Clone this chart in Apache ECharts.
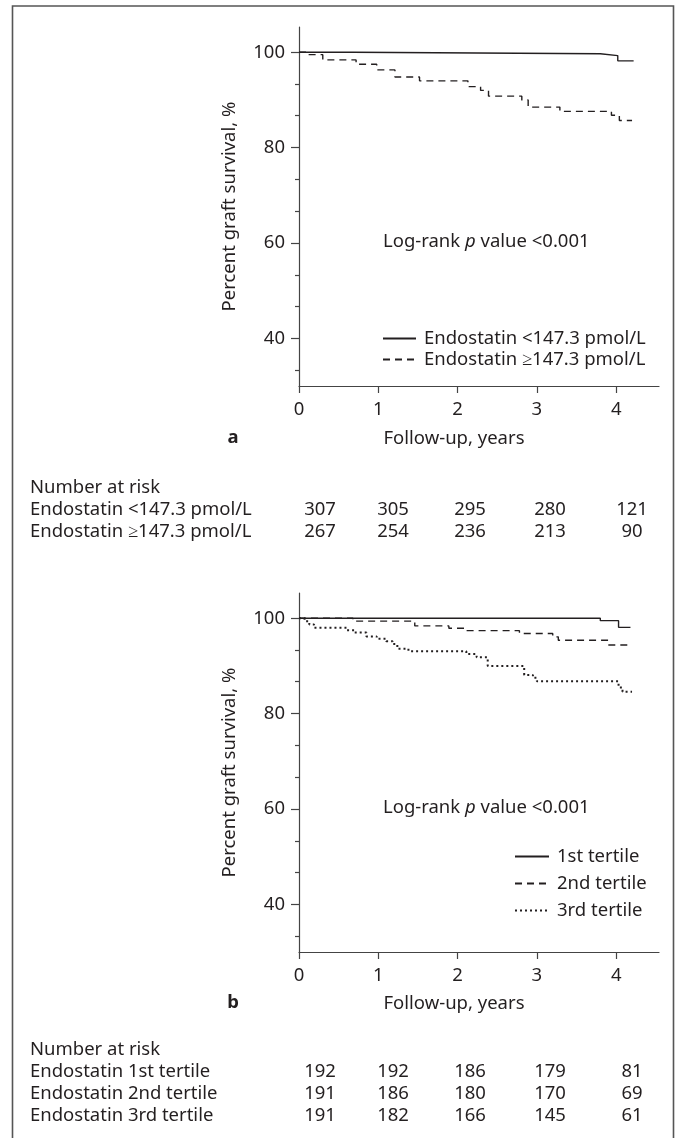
<!DOCTYPE html>
<html><head><meta charset="utf-8">
<script src="https://cdn.jsdelivr.net/npm/echarts@6/dist/echarts.min.js"></script>
<style>html,body{margin:0;padding:0;background:#fff}#c{width:678px;height:1138px}</style>
</head><body><div id="c"></div>
<script>
// ---- data ----
const xTicks = [0, 1, 2, 3, 4];
const yMajor = [40, 60, 80, 100];
const yMinor = [33.3, 46.7, 53.3, 66.7, 73.3, 86.7, 93.3];

const namesA = ['Endostatin <147.3 pmol/L', 'Endostatin \u2265147.3 pmol/L'];
const aLow  = [[0,100],[0.68,99.7],[3.8,99.3],[4.02,98.2],[4.22,98.2]];
const aHigh = [[0,100],[0.09,99.5],[0.30,98.4],[0.72,97.5],[0.98,96.3],[1.21,94.8],[1.52,94.0],[2.13,92.8],[2.29,92.0],[2.39,90.8],[2.81,90.0],[2.89,88.5],[3.29,87.6],[3.94,86.8],[4.04,85.7],[4.20,85.7]];

const namesB = ['1st tertile', '2nd tertile', '3rd tertile'];
const bT1 = [[0,100],[3.8,99.5],[4.03,98.1],[4.18,98.1]];
const bT2 = [[0,100],[0.68,99.4],[1.46,98.4],[1.89,97.9],[2.1,97.4],[2.78,96.8],[3.2,96.1],[3.27,95.4],[3.9,94.4],[4.2,94.4]];
const bT3 = [[0,100],[0.07,99.4],[0.13,98.7],[0.19,98.0],[0.6,97.5],[0.7,97.0],[0.85,96.2],[0.98,95.7],[1.1,95.2],[1.18,94.6],[1.24,93.6],[1.38,93.1],[2.11,92.5],[2.24,91.8],[2.38,90.0],[2.84,88.1],[2.95,87.5],[3.0,86.8],[4.03,85.5],[4.08,84.6],[4.2,84.6]];

const riskTitle = 'Number at risk';
const riskLabelsA = ['Endostatin <147.3 pmol/L', 'Endostatin \u2265147.3 pmol/L'];
const riskA1 = [307, 305, 295, 280, 121];
const riskA2 = [267, 254, 236, 213, 90];
const riskLabelsB = ['Endostatin 1st tertile', 'Endostatin 2nd tertile', 'Endostatin 3rd tertile'];
const riskB1 = [192, 192, 186, 179, 81];
const riskB2 = [191, 186, 180, 170, 69];
const riskB3 = [191, 182, 166, 145, 61];

const yName = 'Percent graft survival, %';
const xName = 'Follow-up, years';
const logRank = ['Log-rank ', 'p', ' value <0.001'];

// ---- style ----
const FONT = 'Noto Sans';
const FS = 18.5;
const TXT = '#231f20';
const LINE = '#231f20';
const AX = '#444';

const chart = echarts.init(document.getElementById('c'), null, {renderer: 'canvas'});

function xAx(g) {
  return {
    type: 'value', gridIndex: g, min: 0, max: 4.54,
    axisLine: {show: true, onZero: false, lineStyle: {color: AX, width: 1.2}},
    axisTick: {show: true, length: 7, customValues: xTicks, lineStyle: {color: AX, width: 1.2}},
    axisLabel: {customValues: xTicks, margin: 14, color: TXT, fontSize: FS, fontFamily: FONT},
    splitLine: {show: false}
  };
}
function yAx(g) {
  return {
    type: 'value', gridIndex: g, min: 30, max: 105.3,
    name: yName, nameLocation: 'middle', nameGap: 60,
    nameTextStyle: {color: TXT, fontSize: FS, fontFamily: FONT},
    axisLine: {show: true, onZero: false, lineStyle: {color: AX, width: 1.2}},
    axisTick: {show: true, length: 8, customValues: yMajor, lineStyle: {color: AX, width: 1.2}},
    axisLabel: {customValues: yMajor, margin: 14, color: TXT, fontSize: FS, fontFamily: FONT},
    splitLine: {show: false}
  };
}
function yMinorAx(g) {
  return {
    type: 'value', gridIndex: g, min: 30, max: 105.3, position: 'left',
    axisLine: {show: false},
    axisTick: {show: true, length: 4, customValues: yMinor, lineStyle: {color: AX, width: 1.2}},
    axisLabel: {show: false},
    splitLine: {show: false}
  };
}
function ser(name, data, g, type, width) {
  return {
    name: name, type: 'line', step: 'end', data: data,
    xAxisIndex: g, yAxisIndex: g * 2, symbol: 'none', silent: true,
    itemStyle: {color: LINE},
    lineStyle: {color: LINE, width: width, type: type, cap: 'butt'}
  };
}
function txt(x, y, s, opt) {
  opt = opt || {};
  return {type: 'text', x: x, y: y, silent: true,
    style: Object.assign({text: s, fill: TXT, fontSize: FS, fontFamily: FONT,
      align: 'left', verticalAlign: 'middle'}, opt)};
}

const cols = [320, 393, 470, 550, 632];
const g = [];
// frame
g.push({type: 'polyline', silent: true, shape: {points: [[12.5, 1138], [12.5, 6], [673.5, 6], [673.5, 1138]]},
  style: {stroke: '#555', lineWidth: 1.6, fill: null}});
// panel letters and axis titles
g.push(txt(233, 438, 'a', {fontWeight: 'bold', align: 'center'}));
g.push(txt(233, 1003, 'b', {fontWeight: 'bold', align: 'center'}));
g.push(txt(454, 439, xName, {align: 'center'}));
g.push(txt(454, 1004, xName, {align: 'center'}));
// log-rank
[242, 808].forEach(function (y) {
  g.push({type: 'text', x: 383, y: y, silent: true, style: {
    text: '{n|' + logRank[0] + '}{i|' + logRank[1] + '}{n|' + logRank[2] + '}',
    verticalAlign: 'middle', align: 'left',
    rich: {n: {fontSize: FS, fontFamily: FONT, fill: TXT}, i: {fontSize: FS, fontFamily: FONT, fontStyle: 'italic', fill: TXT}}
  }});
});
// risk tables
function table(y0, labels, rows) {
  g.push(txt(30, y0, riskTitle));
  labels.forEach(function (lab, i) {
    const y = y0 + 22 * (i + 1);
    g.push(txt(30, y, lab));
    rows[i].forEach(function (v, j) { g.push(txt(cols[j], y, String(v), {align: 'center'})); });
  });
}
table(488, riskLabelsA, [riskA1, riskA2]);
table(1050, riskLabelsB, [riskB1, riskB2, riskB3]);

const legendBase = {orient: 'vertical', padding: 0, itemGap: 0, itemHeight: 12, selectedMode: false,
  itemStyle: {color: 'rgba(0,0,0,0)', borderWidth: 0, opacity: 0}};
const option = {
  animation: false,
  backgroundColor: '#fff',
  grid: [
    {left: 299, top: 27, width: 360, height: 359},
    {left: 299, top: 593, width: 360, height: 359}
  ],
  xAxis: [xAx(0), xAx(1)],
  yAxis: [yAx(0), yMinorAx(0), yAx(1), yMinorAx(1)],
  legend: [
    Object.assign({}, legendBase, {data: namesA, left: 382, top: 328, itemWidth: 33,
      textStyle: {color: TXT, fontSize: FS, fontFamily: FONT, lineHeight: 21, padding: [0, 0, 0, 3]}}),
    Object.assign({}, legendBase, {data: namesB, left: 514, top: 843, itemWidth: 34,
      textStyle: {color: TXT, fontSize: FS, fontFamily: FONT, lineHeight: 27, padding: [0, 0, 0, 3]}})
  ],
  series: [
    ser(namesA[0], aLow, 0, 'solid', 1.4),
    ser(namesA[1], aHigh, 0, [7, 5], 1.4),
    ser(namesB[0], bT1, 1, 'solid', 1.4),
    ser(namesB[1], bT2, 1, [7, 5], 1.4),
    ser(namesB[2], bT3, 1, [2, 3], 2)
  ],
  graphic: g
};
chart.setOption(option);
</script>
</body></html>
